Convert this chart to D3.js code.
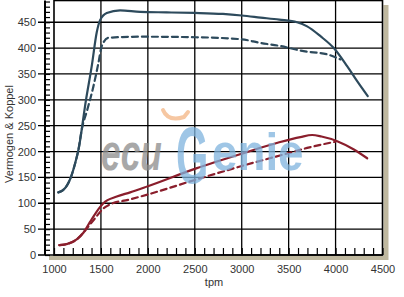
<!DOCTYPE html>
<html><head>
<meta charset="utf-8">
<script src="https://d3js.org/d3.v7.min.js"></script>
<style>
body{margin:0;background:#fff;}
text{font-family:"Liberation Sans",Arial,sans-serif;}
</style>
</head>
<body>
<script>
// vermogen (pk) en koppel (Nm) tegen toerental, getuned (vol) en standaard (streep)
const rpmPowerTuned = [1046,1117,1189,1235,1260,1341,1402,1455,1491,1562,1704,1918,2200,2500,2800,3000,3200,3400,3590,3697,3839,3981,4123,4230,4343];
const powerTuned    = [ 121, 129, 155, 184, 203, 300, 365, 430, 454, 468, 473, 470, 469, 468, 466, 463, 459, 455, 450, 442, 423, 400, 365, 336, 307];
const rpmPowerStock = [1046,1117,1189,1235,1260,1295,1355,1420,1473,1509,1580,1918,2500,3000,3198,3411,3660,3910,4052];
const powerStock    = [ 121, 129, 155, 184, 203, 242, 281, 326, 371, 404, 420, 422, 421, 417, 410, 404, 394, 388, 378];
const rpmTorqueTuned = [1057,1135,1242,1313,1384,1455,1526,1669,1811,2000,2523,3020,3400,3625,3750,3850,4017,4195,4337];
const torqueTuned    = [  19,  21,  30,  43,  64,  84, 100, 113, 121, 133, 168, 197, 218, 228, 232, 229, 220, 204, 187];
const rpmTorqueStock = [1057,1135,1242,1313,1380,1455,1526,1600,1800,2000,2500,3000,3500,3697,3839,3998];
const torqueStock    = [  19,  21,  30,  43,  58,  75,  90,  98, 107, 117, 145, 172, 197, 207, 213, 219];

const xTicks = [1000,1500,2000,2500,3000,3500,4000,4500];
const yTicks = [0,50,100,150,200,250,300,350,400,450];

const W = 404, H = 297;
const pLeft = 54, pRight = 382.5, pTop = 0.5, pBottom = 255;

const x = d3.scaleLinear().domain([1000,4500]).range([pLeft,pRight]);
const y = d3.scaleLinear().domain([0,492]).range([pBottom,pTop]);

const svg = d3.select("body").append("svg")
    .attr("width", W).attr("height", H);

// schaduw achter het plotvlak
svg.append("rect").attr("x", 49).attr("y", 5)
    .attr("width", pRight + 6 - 49).attr("height", pBottom)
    .attr("fill", "#bfb89f");
svg.append("rect").attr("x", 36).attr("y", 0)
    .attr("width", pRight + 1 - 36).attr("height", pBottom + 1)
    .attr("fill", "#fff");

// rasterlijnen
svg.append("g").selectAll("line")
    .data(xTicks.slice(1, -1))
    .enter().append("line")
    .attr("x1", d => x(d)).attr("x2", d => x(d))
    .attr("y1", pTop).attr("y2", pBottom)
    .attr("stroke", "#000").attr("stroke-width", 1.3);
svg.append("g").selectAll("line")
    .data(yTicks.slice(1))
    .enter().append("line")
    .attr("x1", 38).attr("x2", pRight)
    .attr("y1", d => y(d)).attr("y2", d => y(d))
    .attr("stroke", "#000").attr("stroke-width", 1.3);

// kader
svg.append("rect").attr("x", pLeft).attr("y", pTop)
    .attr("width", pRight - pLeft).attr("height", pBottom - pTop)
    .attr("fill", "none").attr("stroke", "#000").attr("stroke-width", 1.6);

// y-as: lijn + kleine streepjes
const yMinor = svg.append("g").attr("transform", "translate(45,0)")
    .call(d3.axisRight(y).tickValues(d3.range(0, 491, 10)).tickSize(5).tickFormat(""));
yMinor.select(".domain").attr("stroke-width", 2).attr("d", "M0," + pTop + "V" + pBottom);
yMinor.selectAll(".tick line").attr("stroke-width", 1.2);

const yLab = svg.append("g").attr("transform", "translate(38,0)")
    .call(d3.axisLeft(y).tickValues(yTicks).tickSize(0).tickPadding(2));
yLab.select(".domain").remove();
yLab.selectAll("text").attr("font-size", 11).attr("fill", "#333")
    .attr("font-family", "'Liberation Sans',Arial,sans-serif");

// x-as
svg.append("line").attr("x1", 38).attr("x2", pRight)
    .attr("y1", pBottom).attr("y2", pBottom)
    .attr("stroke", "#000").attr("stroke-width", 1.6);
const xMinor = svg.append("g").attr("transform", "translate(0," + pBottom + ")")
    .call(d3.axisBottom(x).tickValues(d3.range(1000, 4501, 100)).tickSize(-7).tickFormat(""));
xMinor.select(".domain").remove();
xMinor.selectAll(".tick line").attr("stroke-width", 1.2);

const xLab = svg.append("g").attr("transform", "translate(0," + pBottom + ")")
    .call(d3.axisBottom(x).tickValues(xTicks).tickSize(0).tickPadding(10).tickFormat(d3.format("d")));
xLab.select(".domain").remove();
xLab.selectAll("text").attr("font-size", 11).attr("fill", "#333")
    .attr("font-family", "'Liberation Sans',Arial,sans-serif");

// astitels
svg.append("text").attr("x", 214).attr("y", 286)
    .attr("text-anchor", "middle").attr("font-size", 11).attr("fill", "#333")
    .text("tpm");
svg.append("text").attr("transform", "translate(13,134) rotate(-90)")
    .attr("text-anchor", "middle").attr("font-size", 11).attr("fill", "#333")
    .text("Vermogen & Koppel");

// curves
const line = d3.line().x(d => x(d[0])).y(d => y(d[1])).curve(d3.curveMonotoneX);
const series = [
    {r: rpmPowerStock,  v: powerStock,  c: "#2d4a5c", dash: "6,4"},
    {r: rpmTorqueStock, v: torqueStock, c: "#8a1e2c", dash: "6,4"},
    {r: rpmPowerTuned,  v: powerTuned,  c: "#2d4a5c", dash: null},
    {r: rpmTorqueTuned, v: torqueTuned, c: "#8a1e2c", dash: null}
];
series.forEach(s => {
    svg.append("path")
        .datum(d3.zip(s.r, s.v))
        .attr("d", line)
        .attr("fill", "none")
        .attr("stroke", s.c)
        .attr("stroke-width", 2.2)
        .attr("stroke-dasharray", s.dash)
        .attr("stroke-linecap", "round");
});

// watermerk (ecuGenie-logo)
const wm = svg.append("g").attr("opacity", 0.75);
wm.append("text").attr("transform", "translate(101,170) scale(0.68,1)")
    .attr("font-size", 52).attr("font-weight", "bold").attr("font-style", "italic")
    .attr("fill", "#8c8c8c").text("ecu");
wm.append("text").attr("transform", "translate(176,183) scale(0.52,1)")
    .attr("font-size", 80).attr("font-weight", "bold")
    .attr("fill", "#7fb4de").text("G");
wm.append("text").attr("transform", "translate(212,170) scale(0.88,1)")
    .attr("font-size", 52).attr("font-weight", "bold")
    .attr("fill", "#7fb4de").text("enie");
wm.append("path")
    .attr("d", "M163,110 Q168,122 184,117 L188,112")
    .attr("fill", "none").attr("stroke", "#f4b583").attr("stroke-width", 4)
    .attr("stroke-linecap", "round");
</script>
</body>
</html>
